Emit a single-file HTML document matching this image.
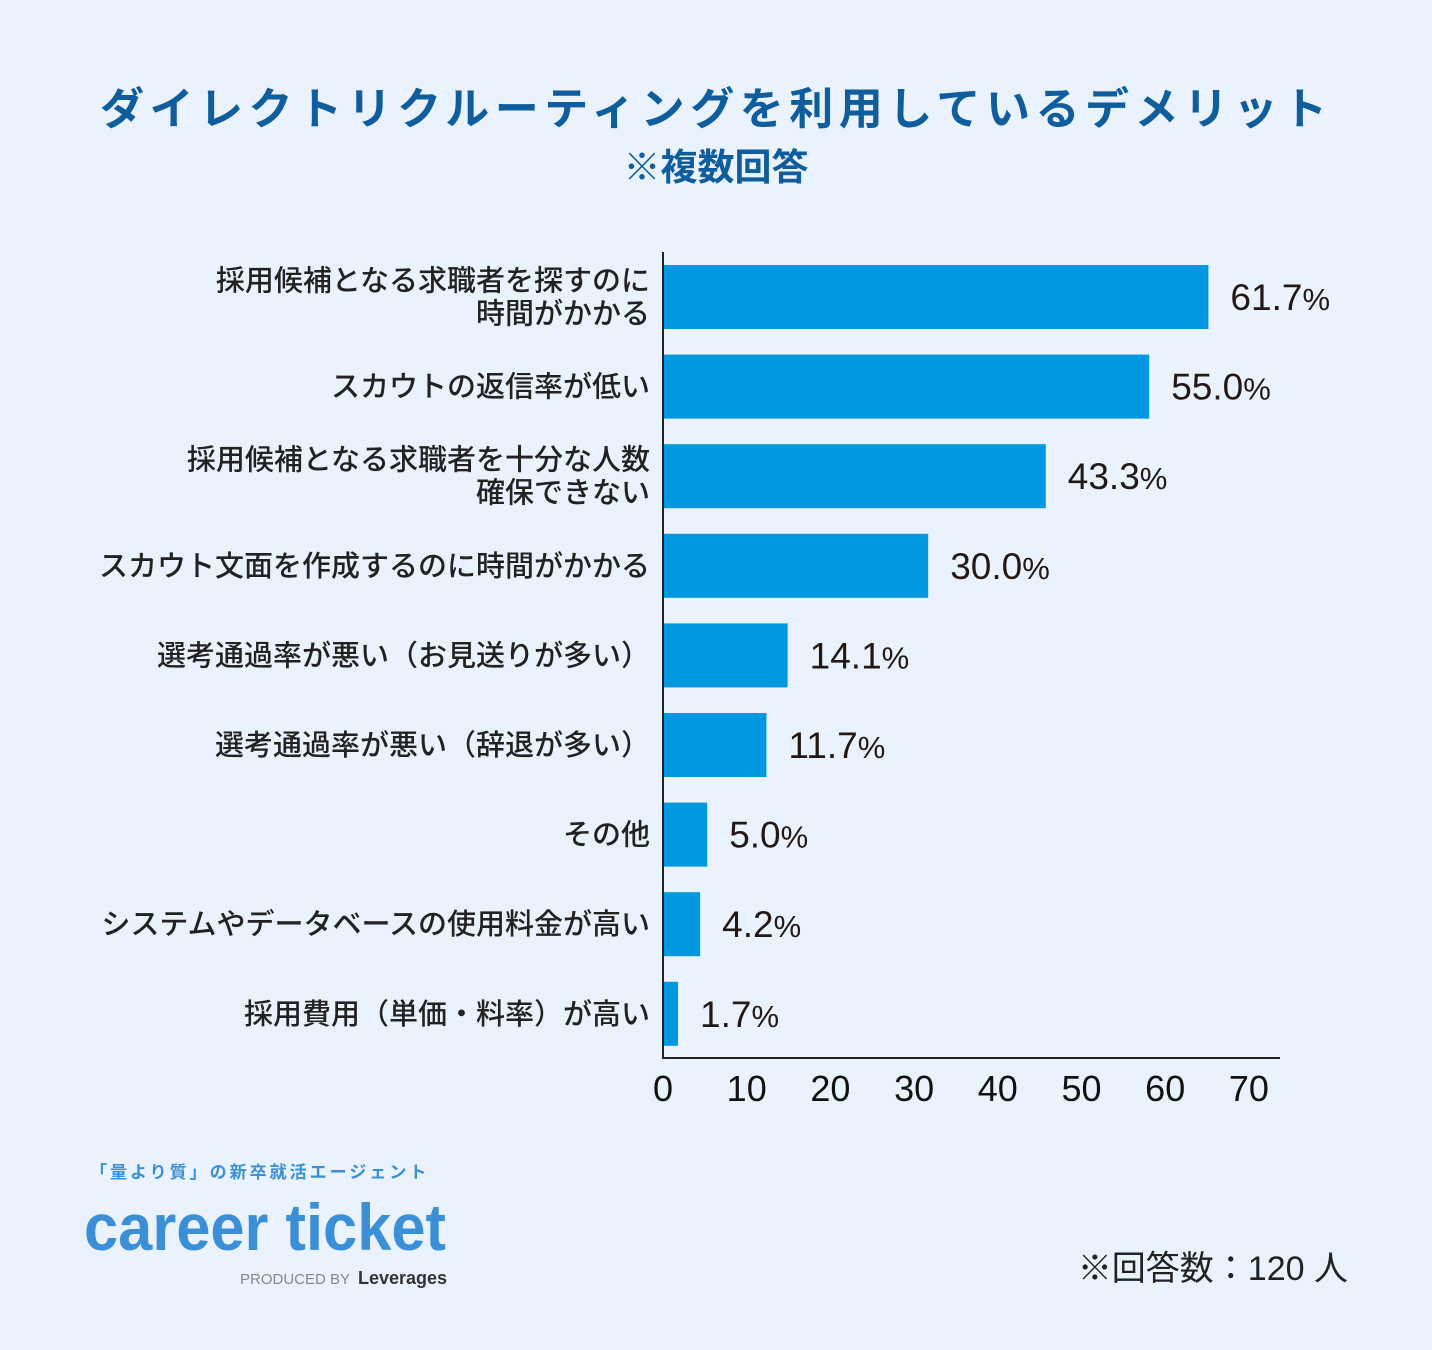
<!DOCTYPE html>
<html><head><meta charset="utf-8"><style>
html,body{margin:0;padding:0;background:#eaf3fd;}
svg{display:block;font-family:"Liberation Sans","Noto Sans CJK JP",sans-serif;}
</style></head><body>
<svg id="chart" width="1432" height="1350" viewBox="0 0 1432 1350" xmlns="http://www.w3.org/2000/svg">
<rect width="1432" height="1350" fill="#eaf3fd"/>
<text x="100" y="124" textLength="1227" lengthAdjust="spacing" font-size="44" font-weight="bold" fill="#0f5d9c">ダイレクトリクルーティングを利用しているデメリット</text>
<text x="716" y="180" text-anchor="middle" font-size="37" font-weight="bold" fill="#0f5d9c">※複数回答</text>
<g id="bars"></g>
<line x1="663" y1="252" x2="663" y2="1058" stroke="#222" stroke-width="2"/>
<line x1="662" y1="1058" x2="1280" y2="1058" stroke="#222" stroke-width="2"/>
<g id="ticks"></g>
<g>
<text x="90" y="1178" font-size="17" font-weight="bold" fill="#3a8fd6" letter-spacing="3">「量より質」の新卒就活エージェント</text>
<text x="84" y="1250" font-size="66" font-weight="bold" fill="#3a8fd6" textLength="362" lengthAdjust="spacingAndGlyphs">career ticket</text>
<text x="240" y="1284" font-size="15" fill="#888">PRODUCED BY</text>
<text x="358" y="1284" font-size="18" font-weight="bold" fill="#333">Leverages</text>
</g>
<text x="1348" y="1280" text-anchor="end" font-size="34" fill="#222">※回答数：120 人</text>
</svg>
<script>
const categories = [
 ["採用候補となる求職者を探すのに","時間がかかる"],
 ["スカウトの返信率が低い"],
 ["採用候補となる求職者を十分な人数","確保できない"],
 ["スカウト文面を作成するのに時間がかかる"],
 ["選考通過率が悪い（お見送りが多い）"],
 ["選考通過率が悪い（辞退が多い）"],
 ["その他"],
 ["システムやデータベースの使用料金が高い"],
 ["採用費用（単価・料率）が高い"]
];
const values = [61.7, 55.0, 43.3, 30.0, 14.1, 11.7, 5.0, 4.2, 1.7];
const tickValues = [0, 10, 20, 30, 40, 50, 60, 70];

const NS = "http://www.w3.org/2000/svg";
const x0 = 663, barUnit = 8.84, tickUnit = 8.37;
const xBar = v => x0 + v * barUnit;
const xTick = v => x0 + v * tickUnit;
const yBand = i => 265 + i * 89.6;
const bandH = 64;
const bars = document.getElementById("bars");
function mk(tag, attrs){const e=document.createElementNS(NS,tag);for(const k in attrs)e.setAttribute(k,attrs[k]);return e;}
values.forEach((v,i)=>{
  const y = yBand(i);
  const r = mk("rect",{x:x0,y:y,width:xBar(v)-x0,height:bandH,fill:"#0099e0"});
  
  
  bars.appendChild(r);
  const t = mk("text",{x:xBar(v)+22,y:y+bandH/2+13,"font-size":37,fill:"#231815"});
  
  
  t.appendChild(document.createTextNode(v.toFixed(1)));
  const p = mk("tspan",{"font-size":31}); p.textContent="%"; t.appendChild(p);
  bars.appendChild(t);
  const lines = categories[i];
  const lab = mk("text",{x:650,"text-anchor":"end","font-size":29,"font-weight":"500",fill:"#222"});
  
  
  const cy = y + bandH/2;
  lines.forEach((s,j)=>{
    const ts = mk("tspan",{x:650,y: cy + 10 + (j - (lines.length-1)/2)*33});
    ts.textContent = s; lab.appendChild(ts);
  });
  bars.appendChild(lab);
});
const ticks = document.getElementById("ticks");
tickValues.forEach(v=>{
  const t = mk("text",{x:xTick(v),y:1101,"text-anchor":"middle","font-size":36,fill:"#111"});
  
  
  t.textContent = v;
  ticks.appendChild(t);
});
</script>
</body></html>
